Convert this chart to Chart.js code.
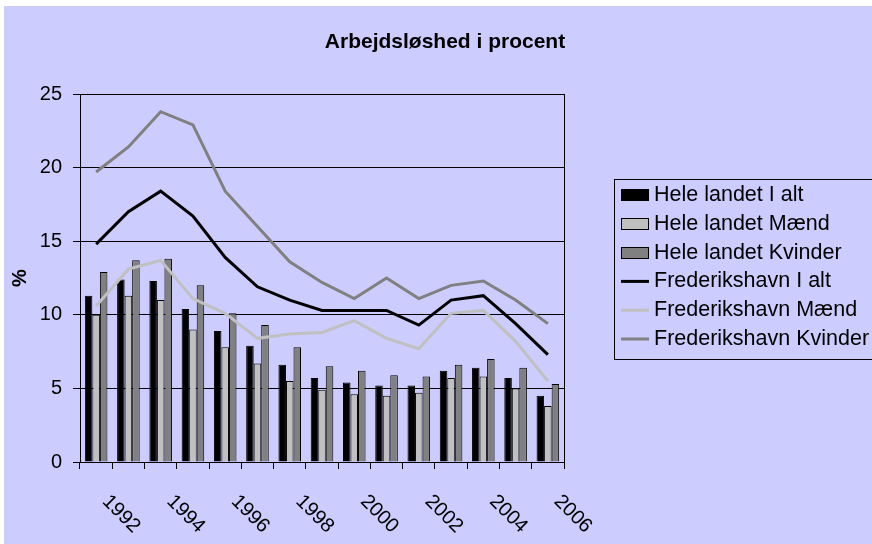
<!DOCTYPE html>
<html>
<head>
<meta charset="utf-8">
<script src="https://cdn.jsdelivr.net/npm/chart.js@4/dist/chart.umd.min.js"></script>
<style>
  body { margin: 0; background: #fff; }
  #wrap { position: absolute; left: 4px; top: 6px; width: 868px; height: 538px; background: #ccccff; }
</style>
</head>
<body>
<div id="wrap"><canvas id="barChart"></canvas></div>
<script>
const titleText = "Arbejdsløshed i procent";
const years = ["1992", "1993", "1994", "1995", "1996", "1997", "1998", "1999", "2000", "2001", "2002", "2003", "2004", "2005", "2006"];

// Hele landet (bars)
const heleIalt = [11.3, 12.4, 12.3, 10.4, 8.9, 7.9, 6.6, 5.7, 5.4, 5.2, 5.2, 6.2, 6.4, 5.7, 4.5];
const heleMaend = [10.0, 11.3, 11.0, 9.0, 7.8, 6.7, 5.5, 4.9, 4.6, 4.5, 4.7, 5.7, 5.8, 5.0, 3.8];
const heleKvinder = [12.9, 13.7, 13.8, 12.0, 10.1, 9.3, 7.8, 6.5, 6.2, 5.9, 5.8, 6.6, 7.0, 6.4, 5.3];

// Frederikshavn (lines)
const fredIalt = [14.8, 17.0, 18.4, 16.7, 13.9, 11.9, 11.0, 10.3, 10.3, 10.3, 9.3, 11.0, 11.3, 9.4, 7.3];
const fredMaend = [10.6, 13.1, 13.7, 11.1, 10.1, 8.4, 8.7, 8.8, 9.6, 8.4, 7.7, 10.1, 10.3, 8.2, 5.5];
const fredKvinder = [19.7, 21.4, 23.8, 22.9, 18.4, 16.0, 13.6, 12.2, 11.1, 12.5, 11.1, 12.0, 12.3, 11.0, 9.4];

const FONT = '"Liberation Sans", Arial, sans-serif';

// title, rotated year labels, right border and the boxed legend
const excelExtras = {
  id: "excelExtras",
  afterDraw(chart) {
    const ctx = chart.ctx;
    const area = chart.chartArea;
    const xScale = chart.scales.x;
    ctx.save();

    ctx.strokeStyle = "#000";
    ctx.lineWidth = 1;
    const rx = Math.round(area.right) + 0.5;
    ctx.beginPath();
    ctx.moveTo(rx, area.top);
    ctx.lineTo(rx, area.bottom);
    ctx.stroke();

    ctx.fillStyle = "#000";
    ctx.font = "bold 21px " + FONT;
    ctx.textAlign = "center";
    ctx.textBaseline = "alphabetic";
    ctx.fillText(titleText, 441, 42);

    ctx.font = "20px " + FONT;
    ctx.textBaseline = "middle";
    years.forEach((y, i) => {
      if (i % 2) return;
      ctx.save();
      ctx.translate(xScale.getPixelForValue(i) + 25, area.bottom + 52);
      ctx.rotate(Math.PI / 4);
      ctx.fillText(y, 0, 0);
      ctx.restore();
    });

    // legend
    ctx.strokeRect(610.5, 173.5, 300, 180);
    ctx.font = "21.5px " + FONT;
    ctx.textAlign = "left";
    chart.data.datasets.forEach((ds, i) => {
      const cy = 189 + i * 28.8;
      if (ds.type === "line") {
        ctx.fillStyle = ds.borderColor;
        ctx.fillRect(617, cy - 1.5, 28, 3);
      } else {
        ctx.fillStyle = ds.backgroundColor;
        ctx.fillRect(617, Math.round(cy) - 6, 28, 12);
        ctx.strokeRect(617.5, Math.round(cy) - 5.5, 27, 11);
      }
      ctx.fillStyle = "#000";
      ctx.fillText(ds.label, 650, cy);
    });
    ctx.restore();
  },
};

document.addEventListener("DOMContentLoaded", () => {
  Chart.defaults.font.family = FONT;
  Chart.defaults.color = "#000";
  generaChart();
});

function barSet(label, values, color) {
  return {
    type: "bar",
    label: label,
    data: values,
    backgroundColor: color,
    borderColor: "#000",
    borderWidth: 1,
    order: 2,
  };
}

function lineSet(label, values, color) {
  return {
    type: "line",
    label: label,
    data: values,
    borderColor: color,
    backgroundColor: color,
    borderWidth: 3,
    pointRadius: 0,
    tension: 0,
    order: 1,
  };
}

function generaChart() {
  var ctx = document.getElementById("barChart").getContext("2d");
  return new Chart(ctx, {
    data: {
      labels: years,
      datasets: [
        barSet("Hele landet I alt", heleIalt, "#000000"),
        barSet("Hele landet Mænd", heleMaend, "#c0c0c0"),
        barSet("Hele landet Kvinder", heleKvinder, "#808080"),
        lineSet("Frederikshavn I alt", fredIalt, "#000000"),
        lineSet("Frederikshavn Mænd", fredMaend, "#c0c0c0"),
        lineSet("Frederikshavn Kvinder", fredKvinder, "#808080"),
      ],
    },
    options: {
      responsive: true,
      maintainAspectRatio: false,
      animation: false,
      datasets: {
        bar: { categoryPercentage: 0.7, barPercentage: 1.0 },
      },
      layout: { padding: { left: 0, top: 88, right: 308, bottom: 0 } },
      plugins: {
        legend: { display: false },
        title: { display: false },
        tooltip: { enabled: false },
      },
      scales: {
        x: {
          offset: true,
          grid: { offset: true, drawOnChartArea: false, drawTicks: true, tickLength: 7, color: "#000" },
          border: { display: true, color: "#000" },
          ticks: { display: false },
          afterFit: (scale) => { scale.height = 82; },
        },
        y: {
          min: 0,
          max: 25,
          ticks: { stepSize: 5, padding: 11, font: { size: 20 } },
          grid: { color: "#000", tickLength: 7 },
          border: { display: true, color: "#000" },
          title: { display: true, text: "%", font: { size: 20, weight: "bold" }, padding: { top: 4, bottom: 0 } },
          afterFit: (scale) => { scale.width = 76; },
        },
      },
    },
    plugins: [excelExtras],
  });
}
</script>
</body>
</html>
